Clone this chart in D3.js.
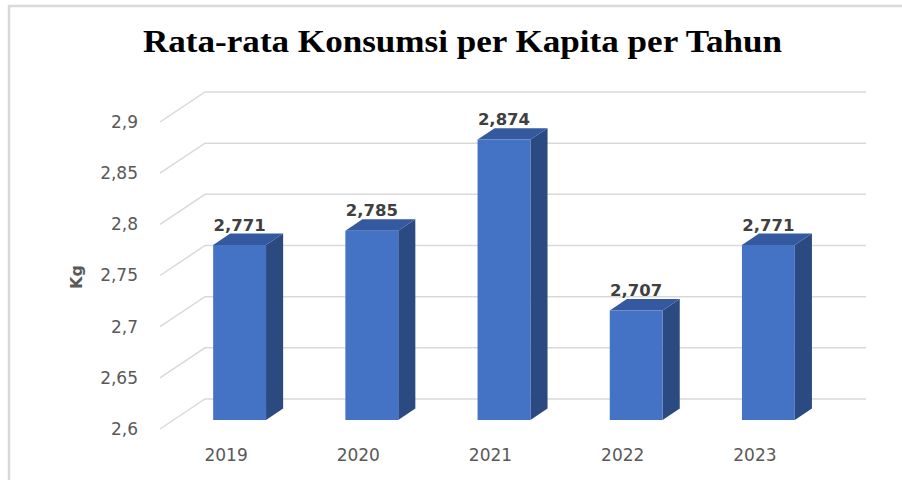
<!DOCTYPE html>
<html>
<head>
<meta charset="utf-8">
<script src="https://cdn.jsdelivr.net/npm/d3@7"></script>
<style>
  body { margin: 0; background: #fff; }
</style>
</head>
<body>
<div class="chart"></div>
<script>
// data
const years = ["2019", "2020", "2021", "2022", "2023"]
const values = [2.771, 2.785, 2.874, 2.707, 2.771]
const yTicks = [2.6, 2.65, 2.7, 2.75, 2.8, 2.85, 2.9]
const titleText = "Rata-rata Konsumsi per Kapita per Tahun"
const yTitle = "Kg"

const width = 902, height = 480
const svg = d3.select(".chart").append("svg").attr("width", width).attr("height", height)

// indonesian number style, comma as decimal mark
const idLocale = d3.formatLocale({decimal: ",", thousands: ".", grouping: [3], currency: ["Rp", ""]})
const tickFmt = v => idLocale.format("~g")(+v.toFixed(2))
const valFmt = idLocale.format(".3f")

// 3d-ish geometry: front plane and a depth offset
const depthX = 45, depthY = -30
const front = {left: 160, right: 821, top: 122, bottom: 429}
const barDepth0 = 0.3, barDepth1 = 0.68
const shift = (p, d) => [p[0] + depthX * d, p[1] + depthY * d]

const x = d3.scaleBand().domain(years).range([front.left, front.right])
            .paddingInner(0.6).paddingOuter(0.3)
const y = d3.scaleLinear().domain([2.6, 2.9]).range([front.bottom, front.top])

// frame
svg.append("rect").attr("x", 9).attr("y", 6).attr("width", 910).attr("height", 500)
   .attr("fill", "none").attr("stroke", "#d9d9d9").attr("stroke-width", 2.5)

// title
svg.append("text").attr("x", 462.5).attr("y", 52).attr("text-anchor", "middle")
   .attr("font-family", "Liberation Serif").attr("font-weight", "bold").attr("font-size", 31)
   .attr("fill", "#000")
   .attr("textLength", 639).attr("lengthAdjust", "spacingAndGlyphs")
   .text(titleText)

// gridlines: diagonal on the left wall + horizontal on the back wall
const grid = svg.append("g").attr("stroke", "#d9d9d9").attr("stroke-width", 1.5).attr("fill", "none")
yTicks.forEach(t => {
  const p0 = [front.left, y(t)]
  const p1 = shift(p0, 1)
  const p2 = shift([front.right, y(t)], 1)
  grid.append("path").attr("d", d3.line()([p0, p1, p2]))
})

// tick labels
svg.append("g").selectAll("text").data(yTicks).enter().append("text")
   .attr("x", 138).attr("y", d => y(d)).attr("dy", "0.35em").attr("text-anchor", "end")
   .attr("font-family", "DejaVu Sans").attr("font-size", 17).attr("fill", "#595959")
   .text(d => tickFmt(d))

// category labels
svg.append("g").selectAll("text").data(years).enter().append("text")
   .attr("x", d => x(d) + x.bandwidth() / 2).attr("y", 461).attr("text-anchor", "middle")
   .attr("font-family", "DejaVu Sans").attr("font-size", 17).attr("fill", "#595959")
   .text(d => d)

// axis title
svg.append("text").attr("transform", "translate(82,277) rotate(-90)").attr("text-anchor", "middle")
   .attr("font-family", "DejaVu Sans").attr("font-weight", "bold").attr("font-size", 16)
   .attr("fill", "#595959").text(yTitle)

// bars
const bars = svg.append("g").selectAll("g").data(years.map((yr, i) => ({yr, v: values[i]}))).enter().append("g")

const faces = d => {
  const x0 = x(d.yr), x1 = x(d.yr) + x.bandwidth()
  const yb = y(2.6), yt = y(d.v)
  const fl = [[x0, yt], [x1, yt], [x1, yb], [x0, yb]].map(p => shift(p, barDepth0))
  const bk = [[x0, yt], [x1, yt], [x1, yb], [x0, yb]].map(p => shift(p, barDepth1))
  return {
    front: fl,
    side: [fl[1], bk[1], bk[2], fl[2]],
    top: [fl[0], bk[0], bk[1], fl[1]],
    backTop: bk[0][1]
  }
}
const poly = pts => "M" + pts.map(p => p.join(",")).join("L") + "Z"

bars.append("path").attr("d", d => poly(faces(d).side)).attr("fill", "#2b4a82")
bars.append("path").attr("d", d => poly(faces(d).top)).attr("fill", "#35599e")
bars.append("path").attr("d", d => poly(faces(d).front)).attr("fill", "#4472c4")

// value labels
bars.append("text")
    .attr("x", d => (faces(d).front[0][0] + faces(d).front[1][0]) / 2)
    .attr("y", d => faces(d).backTop - 3)
    .attr("text-anchor", "middle")
    .attr("font-family", "DejaVu Sans").attr("font-weight", "bold").attr("font-size", 16.5)
    .attr("fill", "#404040")
    .text(d => valFmt(d.v))
</script>
</body>
</html>
